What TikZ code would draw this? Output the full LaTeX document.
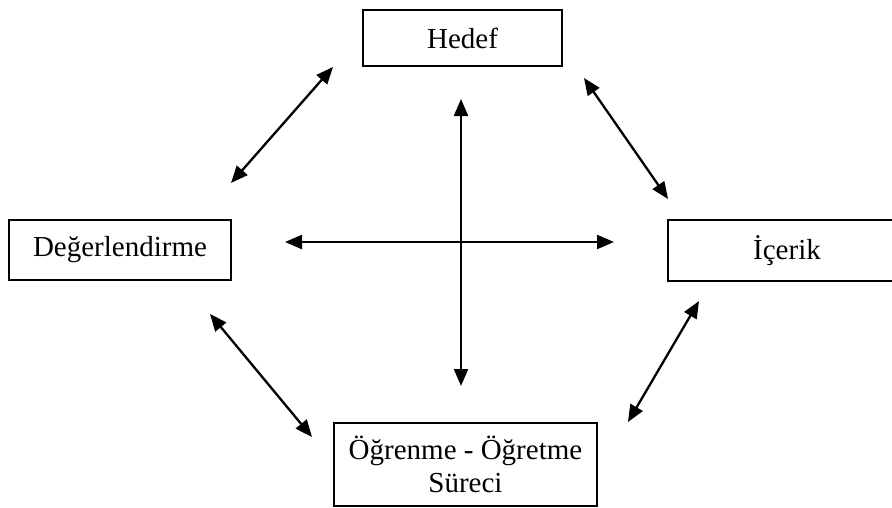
\documentclass[tikz,border=0pt]{standalone}
\usepackage{fontspec}
\setmainfont{Liberation Serif}
\usetikzlibrary{arrows.meta}
\begin{document}
\begin{tikzpicture}[x=1pt,y=-1pt,
  box/.style={draw,line width=1.6pt,inner sep=0pt,align=center,
    font=\fontsize{29}{33}\selectfont},
  link/.style={line width=2.3pt,
    {Triangle[length=17pt,width=14pt]}-{Triangle[length=17pt,width=14pt]}}]
\clip (0,0) rectangle (892,507);
\node[box,minimum width=199pt,minimum height=56pt] (hedef) at (462.5,38) {Hedef};
\node[box,minimum width=222pt,minimum height=60pt] (deger) at (120,250) {Değerlendirme};
\node[box,minimum width=238pt,minimum height=61pt] (icerik) at (787,250.5) {İçerik};
\node[box,minimum width=263pt,minimum height=83pt] (surec) at (465.5,464.5) {Öğrenme - Öğretme\\Süreci};
\coordinate (a1s) at (333,67);  \coordinate (a1e) at (231,183);
\coordinate (a2s) at (584,78);  \coordinate (a2e) at (668,199);
\coordinate (a3s) at (210,314); \coordinate (a3e) at (312,437);
\coordinate (a4s) at (699,301); \coordinate (a4e) at (628,422);
\coordinate (hl) at (285,242);  \coordinate (hr) at (614,242);
\coordinate (vt) at (461,99);   \coordinate (vb) at (461,386);
\draw[link] (a1s) -- (a1e);
\draw[link] (a2s) -- (a2e);
\draw[link] (a3s) -- (a3e);
\draw[link] (a4s) -- (a4e);
\draw[link] (hl) -- (hr);
\draw[link] (vt) -- (vb);
\end{tikzpicture}
\end{document}
